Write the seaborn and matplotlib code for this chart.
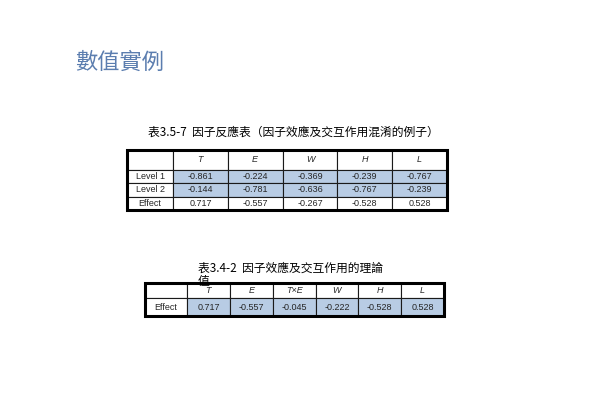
import matplotlib
matplotlib.use("Agg")
import matplotlib.pyplot as plt
import seaborn as sns
from matplotlib.patches import Rectangle

sns.set_theme(style="white")
plt.rcParams['font.family'] = ['Noto Sans CJK TC', 'DejaVu Sans']

title = "數值實例"
t1_title = "表3.5-7  因子反應表（因子效應及交互作用混淆的例子）"
t1_cols = ["T", "E", "W", "H", "L"]
t1_rows = ["Level 1", "Level 2", "Effect"]
t1_vals = [["-0.861", "-0.224", "-0.369", "-0.239", "-0.767"],
           ["-0.144", "-0.781", "-0.636", "-0.767", "-0.239"],
           ["0.717", "-0.557", "-0.267", "-0.528", "0.528"]]
t2_title = "表3.4-2  因子效應及交互作用的理論"
t2_cols = ["T", "E", "T×E", "W", "H", "L"]
t2_rows = ["Effect"]
t2_vals = [["0.717", "-0.557", "-0.045", "-0.222", "-0.528", "0.528"]]

W, H = 595, 420
fig = plt.figure(figsize=(5.95, 4.2), dpi=100)
ax = fig.add_axes([0, 0, 1, 1])
ax.set_xlim(0, W); ax.set_ylim(H, 0); ax.axis("off")
BLUE = "#b8cce4"

ax.text(75, 62, title, fontsize=16, color="#5b7daf", va="center", ha="left")

def draw(x0, y0, x1, y1, cols, rows, vals, first_w, hdr_h, shaded_rows):
    n = len(cols)
    cw = (x1 - x0 - first_w) / n
    widths = [first_w / (x1 - x0)] + [cw / (x1 - x0)] * n
    cells = [[""] + cols] + [[r] + v for r, v in zip(rows, vals)]
    colors = [["white"] * (n + 1)] + [["white"] + [BLUE if i in shaded_rows else "white"] * n
                                      for i in range(len(rows))]
    tb = ax.table(cellText=cells, cellColours=colors, colWidths=widths,
                  bbox=[x0 / W, 1 - y1 / H, (x1 - x0) / W, (y1 - y0) / H],
                  cellLoc="center")
    tb.auto_set_font_size(False)
    body_h = (y1 - y0 - hdr_h) / len(rows)
    tot = y1 - y0
    for (r, c), cell in tb.get_celld().items():
        cell.set_linewidth(0.8)
        cell.set_height((hdr_h if r == 0 else body_h) / tot)
        t = cell.get_text()
        t.set_fontsize(6.5)
        t.set_family(['Liberation Sans', 'DejaVu Sans'])
        if r == 0 and c > 0:
            t.set_fontstyle("italic")
    ax.add_patch(Rectangle((x0, y0), x1 - x0, y1 - y0, fill=False, lw=2.2, ec="black", zorder=5))

ax.text(148, 132, t1_title, fontsize=8.5, ha="left", va="center", color="black")
draw(127, 150, 447, 210, t1_cols, t1_rows, t1_vals, 46, 20, {0, 1})

ax.text(198, 268, t2_title, fontsize=8.5, ha="left", va="center", color="black")
ax.text(198, 282, "值", fontsize=8.5, ha="left", va="center", color="black")
draw(145, 283, 444, 316, t2_cols, t2_rows, t2_vals, 42, 15, {0})

fig.savefig("out.png", dpi=100)
